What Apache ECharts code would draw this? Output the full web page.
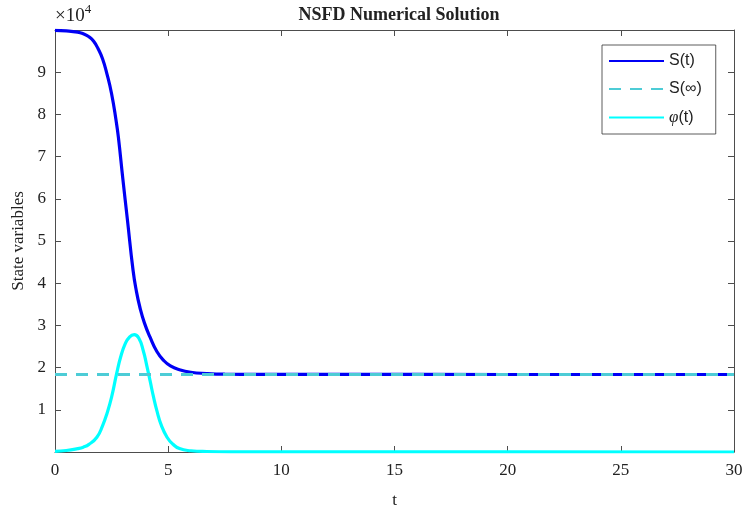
<!DOCTYPE html>
<html><head><meta charset="utf-8">
<script src="https://cdn.jsdelivr.net/npm/echarts@6/dist/echarts.min.js"></script>
<style>html,body{margin:0;padding:0;background:#fff}#c{width:745px;height:508px}</style>
</head><body><div id="c"></div>
<script>
// Data
var sT   = [0, 0.5, 1.0, 1.25, 1.5, 1.7, 1.9, 2.1, 2.3, 2.5, 2.7, 2.8, 3.0, 3.2, 3.45, 3.6, 3.75, 3.95, 4.2, 4.5, 4.8, 5.1, 5.5, 6.0, 6.7, 7.5, 9, 12, 20, 30];
var sV   = [99900, 99800, 99500, 99100, 98400, 97400, 95600, 93200, 89500, 84900, 78500, 74600, 64600, 55000, 43000, 38000, 34300, 30600, 27200, 23800, 21700, 20400, 19500, 18900, 18600, 18450, 18400, 18380, 18370, 18370];
var sInf = 18370;
var pT   = [0, 0.5, 1.0, 1.25, 1.5, 1.85, 2.1, 2.3, 2.5, 2.72, 2.9, 3.1, 3.3, 3.5, 3.7, 3.9, 4.05, 4.2, 4.35, 4.5, 4.7, 4.95, 5.2, 5.5, 6.0, 6.7, 8, 12, 20, 30];
var pV   = [150, 350, 800, 1150, 1800, 3500, 6200, 9200, 13000, 18500, 22500, 25600, 27300, 27800, 27000, 24000, 20600, 16900, 13100, 9800, 6300, 3500, 1900, 800, 300, 120, 50, 20, 10, 5];
var xTicks = [0, 5, 10, 15, 20, 25, 30];
var yTickStep = 10000;

function pairs(a, b) { return a.map(function (t, i) { return [t, b[i]]; }); }

var serif = '"Liberation Serif","DejaVu Serif",serif';
var sans = '"Liberation Sans","DejaVu Sans",sans-serif';
var chart = echarts.init(document.getElementById('c'), null, {renderer: 'canvas'});
var axLine = {show: true, onZero: false, lineStyle: {color: '#4d4d4d', width: 1}};
var tick = {show: true, inside: true, length: 6, lineStyle: {color: '#4d4d4d', width: 1}};
chart.setOption({
  animation: false,
  backgroundColor: '#fff',
  title: {text: 'NSFD Numerical Solution', left: 394, top: 1, textAlign: 'center',
    textStyle: {fontFamily: serif, fontWeight: 'bold', fontSize: 18, color: '#222'}},
  grid: {left: 55, right: 11, top: 30, bottom: 56, containLabel: false, outerBoundsMode: 'none'},
  legend: {
    orient: 'vertical', left: 602, top: 45,
    padding: [8, 14, 8, 6], itemGap: 12, itemWidth: 55, itemHeight: 14,
    borderColor: '#333', borderWidth: 0.8, backgroundColor: '#fff',
    itemStyle: {opacity: 0},
    textStyle: {fontFamily: sans, fontSize: 16, color: '#222',
      rich: {i: {fontFamily: serif, fontStyle: 'italic', fontSize: 17, color: '#222'}}},
    formatter: function (n) { return n === 'phi' ? '{i|φ}(t)' : n; },
    data: ['S(t)', 'S(∞)', 'phi']
  },
  xAxis: [{
    type: 'value', min: 0, max: 30, interval: 5,
    name: 't', nameLocation: 'middle', nameGap: 40,
    nameTextStyle: {fontFamily: serif, fontSize: 17, color: '#222'},
    axisLine: axLine, axisTick: tick,
    axisLabel: {fontFamily: serif, fontSize: 17, color: '#222', margin: 10,
      formatter: function (v) { return xTicks.indexOf(v) >= 0 ? String(v) : ''; }},
    splitLine: {show: false}
  }, {
    type: 'value', position: 'top', min: 0, max: 30, interval: 5,
    axisLine: axLine, axisTick: tick,
    axisLabel: {show: false}, splitLine: {show: false}
  }],
  yAxis: [{
    type: 'value', min: 0, max: 100000, interval: yTickStep,
    name: 'State variables', nameLocation: 'middle', nameGap: 27,
    nameTextStyle: {fontFamily: serif, fontSize: 17, color: '#222'},
    axisLine: axLine, axisTick: tick,
    axisLabel: {fontFamily: serif, fontSize: 17, color: '#222', margin: 9,
      formatter: function (v) { return (v <= 0 || v >= 100000) ? '' : String(v / yTickStep); }},
    splitLine: {show: false}
  }, {
    type: 'value', position: 'right', min: 0, max: 100000, interval: yTickStep,
    axisLine: axLine, axisTick: tick,
    axisLabel: {show: false}, splitLine: {show: false}
  }],
  graphic: [{
    type: 'text', left: 55, top: 3,
    style: {text: '{a|×10}{b|4}', rich: {
      a: {fontFamily: serif, fontSize: 19, fill: '#222', verticalAlign: 'bottom'},
      b: {fontFamily: serif, fontSize: 13, fill: '#222', padding: [0, 0, 10, 0]}}}
  }],
  series: [{
    name: 'S(t)', type: 'line', symbol: 'none', smooth: 0.5,
    data: pairs(sT, sV), z: 3,
    lineStyle: {color: '#0000f5', width: 3.2}, itemStyle: {color: '#0000f5'}
  }, {
    name: 'S(∞)', type: 'line', symbol: 'none',
    data: [[0, sInf], [30, sInf]], z: 4,
    lineStyle: {color: '#4dccd6', width: 3.2, type: [12, 9]}, itemStyle: {color: '#4dccd6'}
  }, {
    name: 'phi', type: 'line', symbol: 'none', smooth: 0.5,
    data: pairs(pT, pV), z: 2,
    lineStyle: {color: '#00ffff', width: 3.2}, itemStyle: {color: '#00ffff'}
  }]
});
</script></body></html>
